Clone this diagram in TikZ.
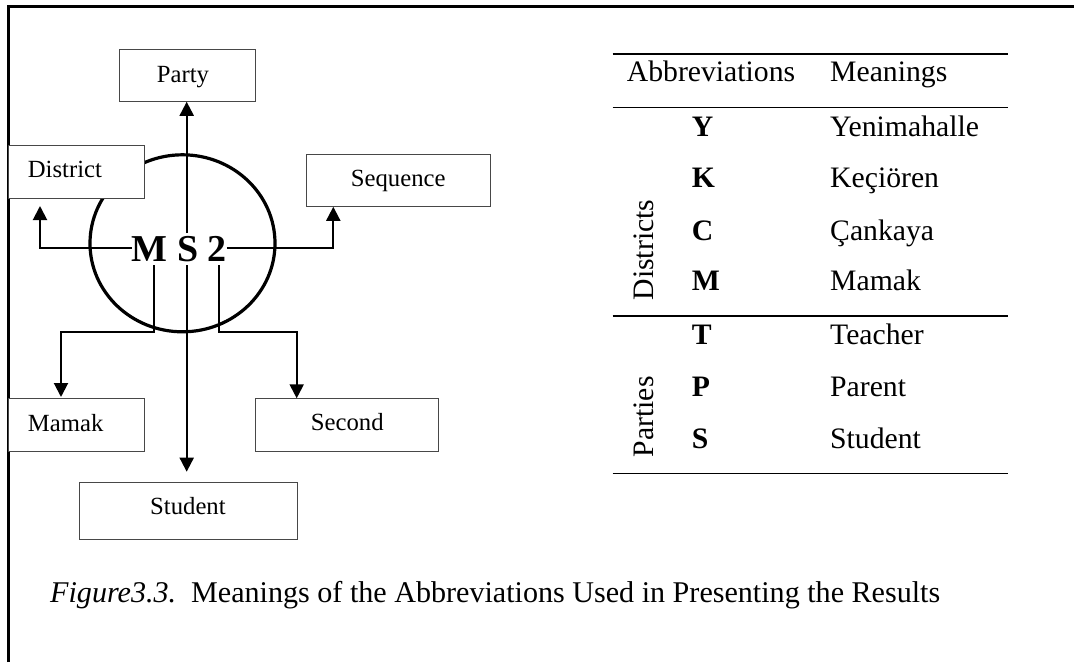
\documentclass[tikz,border=0pt]{standalone}
\usepackage{fontspec}
\setmainfont{Liberation Serif}
\usetikzlibrary{arrows.meta}
\begin{document}
\begin{tikzpicture}[x=1pt,y=-1pt,
  box/.style={draw=black!72, line width=0.9pt, fill=white, inner sep=0pt},
  boxtxt/.style={inner sep=0pt, anchor=base west, font=\fontsize{24.7}{28}\selectfont},
  arr/.style={line width=2pt, -{Triangle[width=14pt,length=14pt]}},
  tbl/.style={inner sep=0pt, anchor=base west, font=\fontsize{29.7}{34}\selectfont},
  tblb/.style={tbl, font=\fontsize{29.7}{34}\selectfont\bfseries},
  rot/.style={inner sep=0pt, rotate=90, anchor=center, font=\fontsize{29.7}{34}\selectfont},
  rulel/.style={line width=1.5pt}]
\useasboundingbox (0,0) rectangle (1074,662);
% frame
\draw[line width=2.5pt] (8.7,662) -- (8.7,6.5) -- (1074,6.5);
% circle
\draw[line width=3.2pt] (182.5,243.3) ellipse [x radius=92.5pt, y radius=88.5pt];
% boxes
\node[box, minimum width=136.4pt, minimum height=52pt] (party) at (187.5,75.3) {};
\node[box, minimum width=136pt, minimum height=52.7pt] (district) at (76.7,171.7) {};
\node[box, minimum width=184.3pt, minimum height=52.3pt] (sequence) at (398.2,180.2) {};
\node[box, minimum width=136pt, minimum height=52.3pt] (mamak) at (76.7,424.9) {};
\node[box, minimum width=183pt, minimum height=52.3pt] (second) at (346.8,424.9) {};
\node[box, minimum width=218pt, minimum height=56.6pt] (student) at (188,511) {};
\node[boxtxt] (partyT) at (156.7,82.7) {Party};
\node[boxtxt] (districtT) at (27.7,177.3) {District};
\node[boxtxt] (sequenceT) at (350.7,186.7) {Sequence};
\node[boxtxt] (mamakT) at (27.7,431) {Mamak};
\node[boxtxt] (secondT) at (310.7,430.7) {Second};
\node[boxtxt] (studentT) at (150,514.3) {Student};
% code
\node[inner sep=0pt, anchor=base west, font=\fontsize{38}{42}\selectfont\bfseries] (ms) at (131.5,261) {M S 2};
% connector points
\coordinate (dl) at (40,248.3);
\coordinate (dtip) at (40,206);
\coordinate (sr) at (333.3,248.3);
\coordinate (ptop) at (186.7,233);
\coordinate (sbot) at (186.7,265);
\coordinate (stip) at (186.7,471.7);
\coordinate (mb) at (154.3,265);
\coordinate (mbend) at (154.3,331.7);
\coordinate (mturn) at (61,331.7);
\coordinate (mtip) at (61,397);
\coordinate (tb) at (219,265);
\coordinate (tbend) at (219,331.7);
\coordinate (tturn) at (296.7,331.7);
% connectors
\draw[arr] (ms.west |- dl) -- (dl) -- (dtip);
\draw[arr] (ms.east |- sr) -- (sr) -- (sr |- sequence.south);
\draw[arr] (ptop) -- (ptop |- party.south);
\draw[arr] (sbot) -- (stip);
\draw[arr] (mb) -- (mbend) -- (mturn) -- (mtip);
\draw[arr] (tb) -- (tbend) -- (tturn) -- (tturn |- second.north);
% table
\draw[rulel] (612.7,54) -- (1008,54);
\draw[rulel] (612.7,107.3) -- (1008,107.3);
\draw[rulel] (612.7,316) -- (1008,316);
\draw[rulel] (612.7,473.3) -- (1008,473.3);
\node[tbl] (hA) at (626.7,81.7) {Abbreviations};
\node[tbl] (hM) at (830,81.7) {Meanings};
\node[rot] (gD) at (644,250) {Districts};
\node[rot] (gP) at (644,416.7) {Parties};
\node[tblb] (aY) at (691.7,136) {Y};
\node[tblb] (aK) at (691.7,187.3) {K};
\node[tblb] (aC) at (691.7,240) {C};
\node[tblb] (aM) at (691.7,290.7) {M};
\node[tblb] (aT) at (691.7,344) {T};
\node[tblb] (aP) at (691.7,396) {P};
\node[tblb] (aS) at (691.7,448.3) {S};
\node[tbl] (mY) at (830,136) {Yenimahalle};
\node[tbl] (mK) at (830,187.3) {Keçiören};
\node[tbl] (mC) at (830,240) {Çankaya};
\node[tbl] (mM) at (830,290.7) {Mamak};
\node[tbl] (mT) at (830,344) {Teacher};
\node[tbl] (mP) at (830,396) {Parent};
\node[tbl] (mS) at (830,448.3) {Student};
% caption
\node[tbl, font=\fontsize{30.1}{34}\selectfont] (cap) at (50,602.7) {\textit{Figure3.3.}\ \ Meanings of the Abbreviations Used in Presenting the Results};
\end{tikzpicture}
\end{document}
